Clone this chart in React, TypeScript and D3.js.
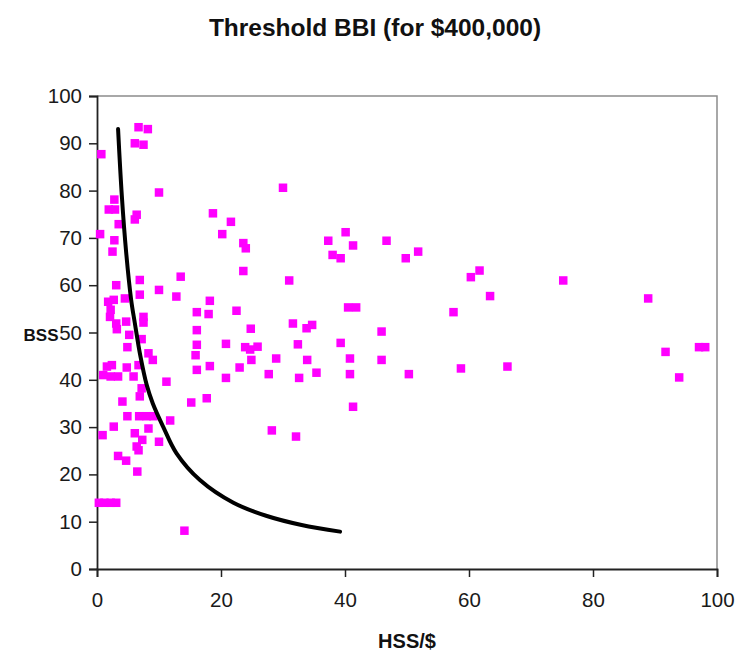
import { useEffect, useRef } from "react";
import * as d3 from "d3";

// scatter points (HSS/$ , BSS)
const hssValues = [
  0.7, 6.7, 8.2, 6.1, 7.5, 10, 2.8, 1.9, 2.9, 6.4, 6.1, 3.5, 0.5, 2.8, 2.5,
  3.1, 6.9, 6.9, 10, 4.5, 1.8, 2.7, 2.2, 2.1, 7.5, 7.5, 4.7, 3.1, 3.2, 5.2,
  7.2, 4.9, 8.3, 9, 6.7, 4.8, 1.6, 2.4, 1.0, 2.2, 3.4, 5.9, 11.2, 7.2, 6.9,
  4.1, 15.2, 4.9, 6.8, 8, 9.1, 11.8, 2.7, 8.3, 0.9, 6.1, 7.3, 10, 6.4, 6.7,
  3.4, 4.7, 6.5, 0.3, 1.2, 2.2, 3.1, 14.1,
  13.5, 12.8, 16.1, 18, 18.2, 22.5, 23.6, 23.6, 24, 20.2, 18.7, 21.6, 16.1,
  24.8, 16.1, 15.9, 20.8, 23.9, 24.7, 25.9, 24.9, 28.9, 18.2, 16.1, 23, 20.8,
  27.7, 17.7, 28.2, 30, 40.1, 37.3, 41.3, 46.7, 38, 39.3, 51.8, 49.8, 31,
  60.3, 61.7, 40.5, 41.8, 57.5, 31.6, 33.8, 34.7, 45.9, 32.4, 39.3, 33.9,
  40.8, 45.9, 32.6, 35.4, 40.8, 50.3, 58.7, 41.3, 32.1, 63.4, 75.2, 88.9,
  91.7, 97.1, 98.1, 93.9, 66.2,
];
const bssValues = [
  87.7, 93.4, 93, 90, 89.7, 79.6, 78.1, 76, 76, 74.9, 73.9, 72.9, 70.8, 69.5, 67.1,
  60, 61.1, 58, 59, 57.2, 56.5, 56.9, 54.8, 53.3, 53.3, 52.1, 52.3, 51.9, 50.7, 49.5,
  48.6, 46.9, 45.6, 44.2, 43.1, 42.6, 42.8, 43.1, 41, 40.7, 40.7, 40.7, 39.6, 38.2, 36.5,
  35.4, 35.2, 32.3, 32.3, 32.3, 32.3, 31.4, 30.1, 29.7, 28.3, 28.7, 27.3, 26.9, 25.9, 25.1,
  23.9, 22.9, 20.6, 14, 14, 14, 14, 8.1,
  61.8, 57.6, 54.3, 53.9, 56.7, 54.6, 63, 68.9, 67.8, 70.8, 75.2, 73.4, 50.5,
  50.8, 47.4, 45.2, 47.6, 46.9, 46.4, 47, 44.2, 44.5, 42.9, 42.1, 42.6, 40.4,
  41.2, 36.1, 29.3, 80.6, 71.2, 69.4, 68.4, 69.4, 66.4, 65.7, 67.1, 65.7, 61,
  61.7, 63.1, 55.3, 55.3, 54.3, 51.9, 50.9, 51.6, 50.2, 47.5, 47.8, 44.2,
  44.5, 44.2, 40.4, 41.5, 41.2, 41.2, 42.4, 34.3, 28, 57.7, 61, 57.2,
  45.9, 46.9, 46.9, 40.5, 42.8,
];

// threshold line, points
const curveHss = [3.4, 4.0, 4.7, 5.5, 6.1, 7.0, 8.0, 9.0, 10.7, 12.8, 16.6, 22, 27.4, 33, 39.2];
const curveBss = [93, 79, 67, 57, 52, 45, 39, 35, 30, 24.5, 18.8, 14, 11.2, 9.3, 7.9];

const xTicks = [0, 20, 40, 60, 80, 100];
const yTicks = [0, 10, 20, 30, 40, 50, 60, 70, 80, 90, 100];

const W = 737;
const H = 651;
const margin = { top: 96, right: 20, bottom: 82, left: 97 };
const font = "'Liberation Sans', Arial, sans-serif";

const App = () => {
  const ref = useRef<SVGSVGElement>(null);

  useEffect(() => {
    const svg = d3.select(ref.current);
    svg.selectAll("*").remove();

    const x = d3.scaleLinear().domain([0, 100]).range([margin.left, W - margin.right]);
    const y = d3.scaleLinear().domain([0, 100]).range([H - margin.bottom, margin.top]);

    svg.append("rect").attr("width", W).attr("height", H).attr("fill", "#fff");

    // grey frame top/right
    svg.append("path")
      .attr("d", `M${x(0)},${y(100)}H${x(100)}V${y(0)}`)
      .attr("fill", "none")
      .attr("stroke", "#8c8c8c")
      .attr("stroke-width", 1.5);

    const xAxis = svg.append("g")
      .attr("transform", `translate(0,${y(0)})`)
      .call(d3.axisBottom(x).tickValues(xTicks).tickSize(8).tickPadding(15));
    const yAxis = svg.append("g")
      .attr("transform", `translate(${x(0)},0)`)
      .call(d3.axisLeft(y).tickValues(yTicks).tickSize(8).tickPadding(7));

    [xAxis, yAxis].forEach((g) => {
      g.select(".domain").attr("stroke", "#222").attr("stroke-width", 1.8);
      g.selectAll(".tick line").attr("stroke", "#222").attr("stroke-width", 1.5);
      g.selectAll(".tick text")
        .attr("font-family", font)
        .attr("font-size", 20.5)
        .attr("fill", "#1a1a1a");
    });

    // points
    svg.append("g")
      .selectAll("rect")
      .data(d3.range(hssValues.length))
      .join("rect")
      .attr("x", (i) => x(hssValues[i]) - 4.25)
      .attr("y", (i) => y(bssValues[i]) - 4.25)
      .attr("width", 8.5)
      .attr("height", 8.5)
      .attr("fill", "#ff00ff");

    // threshold curve
    const line = d3.line<number>()
      .x((i) => x(curveHss[i]))
      .y((i) => y(curveBss[i]))
      .curve(d3.curveCatmullRom);
    svg.append("path")
      .attr("d", line(d3.range(curveHss.length)))
      .attr("fill", "none")
      .attr("stroke", "#000")
      .attr("stroke-width", 4)
      .attr("stroke-linecap", "round");

    svg.append("text")
      .attr("x", 375)
      .attr("y", 36)
      .attr("text-anchor", "middle")
      .attr("font-family", font)
      .attr("font-weight", "bold")
      .attr("font-size", 24.5)
      .attr("fill", "#111")
      .text("Threshold BBI (for $400,000)");

    svg.append("text")
      .attr("x", 41)
      .attr("y", 341)
      .attr("text-anchor", "middle")
      .attr("font-family", font)
      .attr("font-weight", "bold")
      .attr("font-size", 17)
      .attr("fill", "#111")
      .text("BSS");

    svg.append("text")
      .attr("x", 407)
      .attr("y", 648)
      .attr("text-anchor", "middle")
      .attr("font-family", font)
      .attr("font-weight", "bold")
      .attr("font-size", 20)
      .attr("fill", "#111")
      .text("HSS/$");
  }, []);

  return (
    <svg
      ref={ref}
      width={W}
      height={H}
      style={{ position: "absolute", left: 0, top: 0 }}
    />
  );
};

export default App;
